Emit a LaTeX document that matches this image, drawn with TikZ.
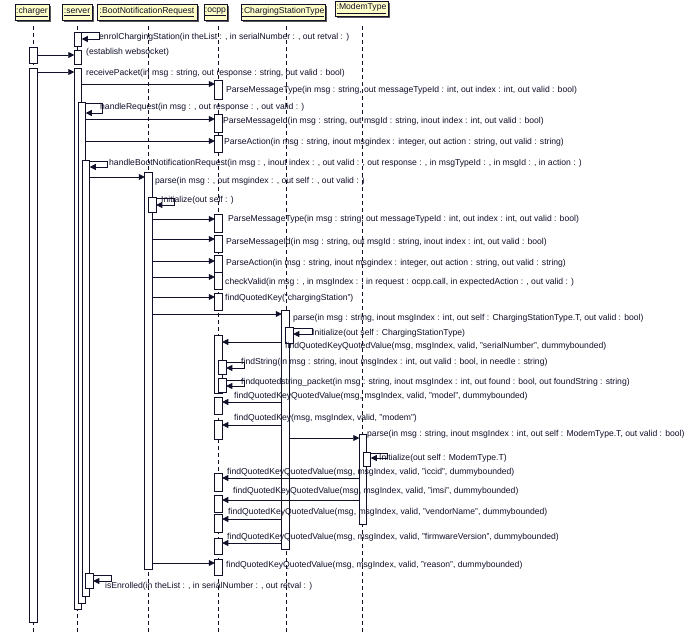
\documentclass[tikz,border=0pt]{standalone}
\usepackage{fontspec}
\setmainfont{Liberation Sans}
\usetikzlibrary{arrows.meta,shadows}

\definecolor{umlline}{HTML}{10102A}
\definecolor{umlhead}{HTML}{FFFFC8}

\tikzset{
  hdr/.style={draw=umlline, fill=umlhead, line width=0.8pt, inner sep=0pt, minimum height=16pt,
    font=\fontsize{8.6}{10}\selectfont, text=umlline,
    drop shadow={shadow xshift=2pt, shadow yshift=-2pt, fill=black!65, opacity=1}},
  life/.style={umlline, line width=0.8pt, dash pattern=on 4pt off 3pt},
  act/.style={draw=umlline, fill=white, line width=0.8pt, minimum width=7.5pt, inner sep=0pt, outer sep=0pt},
  msg/.style={umlline, line width=0.8pt, -{Triangle[length=6pt,width=6pt]}},
  lbl/.style={anchor=west, inner sep=0pt, text=umlline, font=\fontsize{8.6}{10}\selectfont}
}

% activation box: name, centre x, top y, bottom y
\newcommand{\actbox}[4]{\node[act, minimum height={#4-#3}, anchor=north] (#1) at (#2,#3) {};}

\begin{document}
\begin{tikzpicture}[x=1pt, y=-1pt]
  \useasboundingbox[fill=white] (0,0) rectangle (697,632);

  % lifeline heads
  \node[hdr, minimum width=34pt] (charger) at (32,12) {\underline{:charger}};
  \node[hdr, minimum width=30pt] (server) at (77,12) {\underline{:server}};
  \node[hdr, minimum width=100pt] (bootreq) at (147,12) {\underline{:BootNotificationRequest}};
  \node[hdr, minimum width=23pt] (ocpp) at (215.5,12) {\underline{:ocpp}};
  \node[hdr, minimum width=84pt] (csttype) at (283,12) {\underline{:ChargingStationType}};
  \node[hdr, minimum width=53pt, minimum height=15pt] (modem) at (361.5,8.5) {\underline{:ModemType}};

  \foreach \n/\x in {charger/33, server/77, bootreq/148, ocpp/218, csttype/286, modem/362}
    \draw[life] (\x,26) -- (\x,632);

  % activations
  \actbox{c0}{33.5}{47}{63}
  \actbox{cMain}{33.5}{68}{622}
  \actbox{s0}{78}{32}{46}
  \actbox{s1}{78}{50}{64}
  \actbox{sMain}{78}{68}{609}
  \actbox{sReq}{82}{102}{603}
  \actbox{sBoot}{86}{160}{596}
  \actbox{sEnr}{89.5}{573}{588}
  \actbox{b1}{148.5}{172}{569}
  \actbox{b2}{152.5}{197}{212}
  \actbox{o1}{218.5}{80}{99}
  \actbox{o2}{218.5}{114}{132}
  \actbox{o3}{218.5}{135}{152}
  \actbox{o4}{218.5}{214}{232}
  \actbox{o5}{218.5}{235}{252}
  \actbox{o6}{218.5}{255}{272}
  \actbox{o7}{218.5}{272}{289}
  \actbox{o8}{218.5}{293}{310}
  \actbox{o9}{218.5}{335}{393}
  \actbox{o9a}{222.5}{360}{374}
  \actbox{o9b}{222.5}{378}{392}
  \actbox{o10}{218.5}{397}{414}
  \actbox{o11}{218.5}{420}{439}
  \actbox{o12}{218.5}{473}{491}
  \actbox{o13}{218.5}{495}{512}
  \actbox{o14}{218.5}{514}{532}
  \actbox{o15}{218.5}{538}{554}
  \actbox{o16}{218.5}{559}{575}
  \actbox{c1}{285.5}{310}{549}
  \actbox{c2}{289.5}{327}{343}
  \actbox{m1}{363}{434}{524}
  \actbox{m2}{367}{452}{466}

  % messages
  \draw[msg] (s0.east |- 0,32.5) -- ++(18,0) |- (s0.east |- 0,39);
  \draw[msg] (c0.east |- 0,55) -- (s1.west |- 0,55);
  \draw[msg] (cMain.east |- 0,72) -- (sMain.west |- 0,72);
  \draw[msg] (sMain.east |- 0,84) -- (o1.west |- 0,84);
  \draw[msg] (sReq.east |- 0,103) -- ++(17,0) |- (sReq.east |- 0,113);
  \draw[msg] (sReq.east |- 0,119) -- (o2.west |- 0,119);
  \draw[msg] (sReq.east |- 0,141) -- (o3.west |- 0,141);
  \draw[msg] (sBoot.east |- 0,161) -- ++(18,0) |- (sBoot.east |- 0,167);
  \draw[msg] (sBoot.east |- 0,177) -- (b1.west |- 0,177);
  \draw[msg] (b2.east |- 0,198) -- ++(18,0) |- (b2.east |- 0,205);
  \draw[msg] (b1.east |- 0,219) -- (o4.west |- 0,219);
  \draw[msg] (b1.east |- 0,239) -- (o5.west |- 0,239);
  \draw[msg] (b1.east |- 0,261) -- (o6.west |- 0,261);
  \draw[msg] (b1.east |- 0,277) -- (o7.west |- 0,277);
  \draw[msg] (b1.east |- 0,297) -- (o8.west |- 0,297);
  \draw[msg] (b1.east |- 0,314) -- (c1.west |- 0,314);
  \draw[msg] (c2.east |- 0,328) -- ++(19,0) |- (c2.east |- 0,334);
  \draw[msg] (c1.west |- 0,342) -- (o9.east |- 0,342);
  \draw[msg] (o9a.east |- 0,362) -- ++(18,0) |- (o9a.east |- 0,368);
  \draw[msg] (o9b.east |- 0,380) -- ++(18,0) |- (o9b.east |- 0,386);
  \draw[msg] (c1.west |- 0,402) -- (o10.east |- 0,402);
  \draw[msg] (c1.west |- 0,425) -- (o11.east |- 0,425);
  \draw[msg] (c1.east |- 0,438) -- (m1.west |- 0,438);
  \draw[msg] (m2.east |- 0,453) -- ++(17,0) |- (m2.east |- 0,458);
  \draw[msg] (m1.west |- 0,478) -- (o12.east |- 0,478);
  \draw[msg] (m1.west |- 0,500) -- (o13.east |- 0,500);
  \draw[msg] (c1.west |- 0,519) -- (o14.east |- 0,519);
  \draw[msg] (c1.west |- 0,543) -- (o15.east |- 0,543);
  \draw[msg] (b1.east |- 0,563) -- (o16.west |- 0,563);
  \draw[msg] (sEnr.east |- 0,575) -- ++(18,0) |- (sEnr.east |- 0,581);

  % labels
  \node[lbl] (l1) at (99,37) {enrolChargingStation(in theList : , in serialNumber : , out retval : )};
  \node[lbl] (l2) at (86,52) {(establish websocket)};
  \node[lbl] (l3) at (86,73) {receivePacket(in msg : string, out response : string, out valid : bool)};
  \node[lbl] (l4) at (226,90) {ParseMessageType(in msg : string, out messageTypeId : int, out index : int, out valid : bool)};
  \node[lbl] (l5) at (100,107) {handleRequest(in msg : , out response : , out valid : )};
  \node[lbl] (l6) at (223,121) {ParseMessageId(in msg : string, out msgId : string, inout index : int, out valid : bool)};
  \node[lbl] (l7) at (224,142) {ParseAction(in msg : string, inout msgindex : integer, out action : string, out valid : string)};
  \node[lbl] (l8) at (109,163) {handleBootNotificationRequest(in msg : , inout index : , out valid : , out response : , in msgTypeId : , in msgId : , in action : )};
  \node[lbl] (l9) at (155,181) {parse(in msg : , out msgindex : , out self : , out valid : )};
  \node[lbl] (l10) at (161,200) {Initialize(out self : )};
  \node[lbl] (l11) at (228,219) {ParseMessageType(in msg : string, out messageTypeId : int, out index : int, out valid : bool)};
  \node[lbl] (l12) at (226,242) {ParseMessageId(in msg : string, out msgId : string, inout index : int, out valid : bool)};
  \node[lbl] (l13) at (226,263) {ParseAction(in msg : string, inout msgindex : integer, out action : string, out valid : string)};
  \node[lbl] (l14) at (225,282) {checkValid(in msg : , in msgIndex : , in request : ocpp.call, in expectedAction : , out valid : )};
  \node[lbl] (l15) at (225,298) {findQuotedKey("chargingStation")};
  \node[lbl] (l16) at (293,318) {parse(in msg : string, inout msgIndex : int, out self : ChargingStationType.T, out valid : bool)};
  \node[lbl] (l17) at (312,333) {Initialize(out self : ChargingStationType)};
  \node[lbl] (l18) at (285,346) {findQuotedKeyQuotedValue(msg, msgIndex, valid, "serialNumber", dummybounded)};
  \node[lbl] (l19) at (241,362) {findString(in msg : string, inout msgIndex : int, out valid : bool, in needle : string)};
  \node[lbl] (l20) at (241,382) {findquotedstring\_packet(in msg : string, inout msgIndex : int, out found : bool, out foundString : string)};
  \node[lbl] (l21) at (234,396) {findQuotedKeyQuotedValue(msg, msgIndex, valid, "model", dummybounded)};
  \node[lbl] (l22) at (234,418) {findQuotedKey(msg, msgIndex, valid, "modem")};
  \node[lbl] (l23) at (367,434) {parse(in msg : string, inout msgIndex : int, out self : ModemType.T, out valid : bool)};
  \node[lbl] (l24) at (379,458) {Initialize(out self : ModemType.T)};
  \node[lbl] (l25) at (227,472) {findQuotedKeyQuotedValue(msg, msgIndex, valid, "iccid", dummybounded)};
  \node[lbl] (l26) at (233,491) {findQuotedKeyQuotedValue(msg, msgIndex, valid, "imsi", dummybounded)};
  \node[lbl] (l27) at (228,512) {findQuotedKeyQuotedValue(msg, msgIndex, valid, "vendorName", dummybounded)};
  \node[lbl] (l28) at (227,537) {findQuotedKeyQuotedValue(msg, msgIndex, valid, "firmwareVersion", dummybounded)};
  \node[lbl] (l29) at (226,565) {findQuotedKeyQuotedValue(msg, msgIndex, valid, "reason", dummybounded)};
  \node[lbl] (l30) at (105,586) {isEnrolled(in theList : , in serialNumber : , out retval : )};
\end{tikzpicture}
\end{document}
